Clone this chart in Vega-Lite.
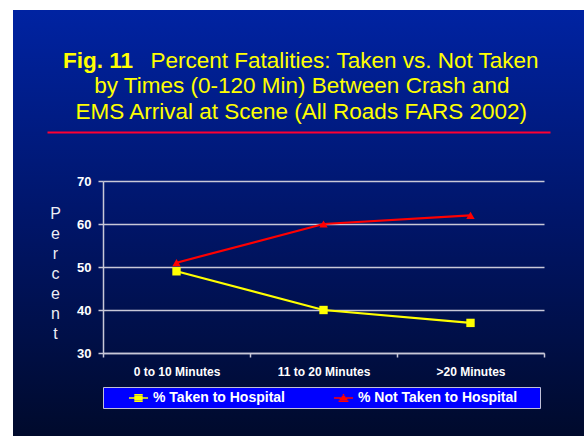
{
  "$schema": "https://vega.github.io/schema/vega-lite/v6.json",
  "width": 571,
  "height": 426,
  "autosize": "none",
  "padding": {"left": 13, "top": 10, "right": 0, "bottom": 0},
  "background": "white",
  "config": {
    "font": "Liberation Sans",
    "view": {
      "stroke": null,
      "fill": {"gradient": "linear", "x1": 0, "y1": 0, "x2": 0, "y2": 1,
        "stops": [{"offset": 0, "color": "#0023a2"}, {"offset": 0.5, "color": "#001568"}, {"offset": 1, "color": "#000a2c"}]}
    }
  },
  "title": {
    "text": "Fig. 11",
    "subtitle": [
      "\u200b\u00a0\u00a0\u00a0\u00a0\u00a0\u00a0\u00a0\u00a0\u00a0\u00a0\u00a0\u00a0\u00a0\u00a0Percent Fatalities: Taken vs. Not Taken",
      "\u200b\u00a0\u00a0\u00a0\u00a0\u00a0by Times (0-120 Min) Between Crash and",
      "\u200b\u00a0\u00a0EMS Arrival at Scene (All Roads FARS 2002)"
    ],
    "anchor": "start",
    "frame": "group",
    "dx": 50,
    "offset": -113,
    "color": "#ffff00",
    "subtitleColor": "#ffff00",
    "font": "Liberation Sans",
    "subtitleFont": "Liberation Sans",
    "fontSize": 22.5,
    "subtitleFontSize": 22.5,
    "fontWeight": "bold",
    "subtitleFontWeight": "normal",
    "subtitleLineHeight": 25.5,
    "subtitlePadding": -22.5
  },
  "data": {
    "values": [
      {"time": "0 to 10 Minutes", "series": "% Taken to Hospital", "percent": 49},
      {"time": "11 to 20 Minutes", "series": "% Taken to Hospital", "percent": 40},
      {"time": ">20 Minutes", "series": "% Taken to Hospital", "percent": 37},
      {"time": "0 to 10 Minutes", "series": "% Not Taken to Hospital", "percent": 51},
      {"time": "11 to 20 Minutes", "series": "% Not Taken to Hospital", "percent": 60},
      {"time": ">20 Minutes", "series": "% Not Taken to Hospital", "percent": 62}
    ]
  },
  "resolve": {"scale": {"x": "independent", "y": "independent"}, "axis": {"x": "independent", "y": "independent"}},
  "layer": [
    {
      "encoding": {
        "x": {
          "field": "time", "type": "nominal", "sort": null,
          "scale": {"type": "band", "range": [90, 531], "paddingInner": 0, "paddingOuter": 0},
          "axis": {
            "orient": "bottom", "offset": -83, "title": null, "labelAngle": 0,
            "tickBand": "extent", "grid": false,
            "domainColor": "#c8c8d8", "domainWidth": 1.5,
            "tickColor": "#c8c8d8", "tickWidth": 1.5, "tickSize": 4,
            "labelColor": "#ffffff", "labelFontSize": 12, "labelFontWeight": "bold",
            "labelPadding": 9, "labelFont": "Liberation Sans"
          }
        },
        "y": {
          "field": "percent", "type": "quantitative",
          "scale": {"domain": [30, 70], "range": [343, 171], "nice": false, "zero": false},
          "axis": {
            "orient": "left", "offset": -90, "values": [30, 40, 50, 60, 70],
            "grid": true, "gridColor": "#c8c8d8", "gridWidth": 1.5,
            "domainColor": "#c8c8d8", "domainWidth": 1.5,
            "tickColor": "#c8c8d8", "tickWidth": 1.5, "tickSize": 5,
            "labelColor": "#ffffff", "labelFontSize": 13, "labelFontWeight": "bold",
            "labelPadding": 7, "labelFont": "Liberation Sans",
            "title": ["P", "e", "r", "c", "e", "n", "t"],
            "titleAngle": 0, "titleX": -48, "titleY": 203, "titleAlign": "center",
            "titleBaseline": "middle", "titleFontSize": 16, "titleFontWeight": "normal",
            "titleColor": "#eeeef6", "titleLineHeight": 20, "titleFont": "Liberation Sans"
          }
        },
        "color": {
          "field": "series", "type": "nominal",
          "scale": {"domain": ["% Taken to Hospital", "% Not Taken to Hospital"], "range": ["#ffff00", "#ff0000"]},
          "legend": {
            "orient": "none", "legendX": 90, "legendY": 377, "direction": "horizontal",
            "title": null, "fillColor": "#0000ff", "strokeColor": "#c0c0d8", "padding": 3,
            "symbolOffset": 24.5, "columnPadding": 26, "labelOffset": 6.5,
            "labelColor": "#ffffff", "labelFontSize": 14, "labelFontWeight": "bold",
            "labelFont": "Liberation Sans", "labelLimit": 300, "symbolSize": 196,
            "symbolOpacity": 1,
            "labelExpr": "datum.label + (datum.value === '% Not Taken to Hospital' ? '\u00a0\u00a0\u00a0\u00a0\u00a0\u200b' : '')"
          }
        }
      },
      "layer": [
        {"mark": {"type": "line", "strokeWidth": 2.2}},
        {
          "mark": {"type": "point", "filled": true, "opacity": 1, "size": 70},
          "encoding": {
            "shape": {"condition": {"test": "datum.series === '% Taken to Hospital'", "value": "square"}, "value": "triangle-up"}
          }
        },
        {
          "mark": {"type": "point", "filled": true, "opacity": 0},
          "encoding": {
            "shape": {
              "field": "series", "type": "nominal",
              "scale": {"domain": ["% Taken to Hospital", "% Not Taken to Hospital"],
                "range": ["M-1.36,0H1.36M-0.6,-0.45H0.6M-0.6,-0.225H0.6M-0.6,0.225H0.6M-0.6,0.45H0.6", "M-1.36,0H1.36M-0.1,-0.45H0.1M-0.25,-0.225H0.25M-0.55,0.225H0.55M-0.7,0.45H0.7"]},
              "legend": {"orient": "none", "legendX": 90, "legendY": 377, "direction": "horizontal", "title": null}
            }
          }
        }
      ]
    },
    {
      "mark": {"type": "point", "opacity": 0},
      "encoding": {
        "x": {
          "field": "time", "type": "nominal", "sort": null,
          "scale": {"type": "band", "range": [34, 537], "paddingInner": 0, "paddingOuter": 0},
          "axis": {
            "orient": "top", "offset": -122, "title": null, "labels": false, "ticks": false,
            "grid": false, "domainColor": "#ff0033", "domainWidth": 2
          }
        }
      }
    }
  ]
}
